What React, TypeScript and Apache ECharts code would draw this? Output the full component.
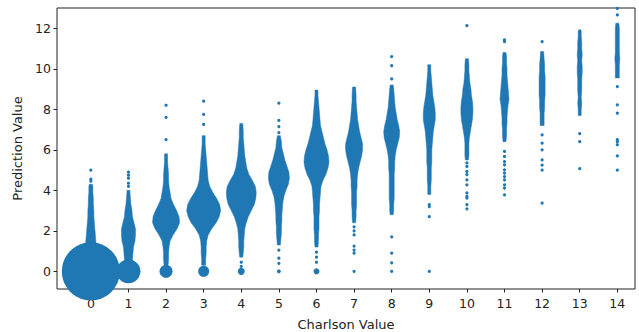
import React, { useEffect, useRef } from "react";
import * as echarts from "echarts";

// Charlson categories and tick labels
const charlsonValues = [0, 1, 2, 3, 4, 5, 6, 7, 8, 9, 10, 11, 12, 13, 14];
const predictionTicks = [0, 2, 4, 6, 8, 10, 12];

// Large clusters of identical predictions: [charlson, prediction, count-scaled diameter]
const zeroClusters: number[][] = [
  [0, 0, 58], [1, 0, 24], [2, 0, 13], [3, 0, 11], [4, 0, 7], [5, 0, 4], [6, 0, 6],
];

// Dense bodies per Charlson value: [prediction, count-scaled spread]
const body0 = [[0.9, 11], [1.2, 11], [1.5, 10], [1.8, 9], [2.1, 8], [2.4, 7], [2.7, 6], [3.0, 6], [3.3, 5], [3.6, 5], [3.9, 4], [4.2, 4], [4.3, 3]];
const body1 = [[0.3, 8], [0.6, 8], [0.9, 9], [1.2, 10], [1.5, 13], [1.8, 14], [2.1, 14], [2.4, 11], [2.7, 8], [3.0, 7], [3.3, 5], [3.6, 4], [3.9, 3], [4.0, 3]];
const body2 = [[0.3, 4], [0.6, 5], [0.9, 5], [1.2, 6], [1.5, 8], [1.8, 14], [2.1, 22], [2.4, 27], [2.7, 26], [3.0, 21], [3.3, 15], [3.6, 10], [3.9, 8], [4.2, 6], [4.5, 5], [4.8, 5], [5.1, 4], [5.4, 3], [5.8, 3]];
const body3 = [[0.3, 4], [0.6, 4], [0.9, 5], [1.2, 5], [1.5, 6], [1.8, 9], [2.1, 16], [2.4, 25], [2.7, 31], [3.0, 34], [3.3, 32], [3.6, 26], [3.9, 18], [4.2, 12], [4.5, 9], [4.8, 8], [5.1, 7], [5.4, 6], [5.7, 5], [6.0, 4], [6.3, 3], [6.7, 3]];
const body4 = [[0.7, 3], [0.9, 4], [1.2, 5], [1.5, 5], [1.8, 6], [2.1, 7], [2.4, 10], [2.7, 14], [3.0, 20], [3.3, 26], [3.6, 29], [3.9, 30], [4.2, 28], [4.5, 22], [4.8, 15], [5.1, 11], [5.4, 9], [5.7, 7], [6.0, 6], [6.3, 5], [6.6, 4], [6.9, 4], [7.3, 3]];
const body5 = [[1.3, 3], [1.6, 4], [1.9, 5], [2.2, 5], [2.5, 6], [2.8, 6], [3.1, 7], [3.4, 8], [3.7, 10], [4.0, 14], [4.3, 19], [4.6, 21], [4.9, 20], [5.2, 16], [5.5, 12], [5.8, 9], [6.1, 6], [6.4, 5], [6.7, 3]];
const body6 = [[1.2, 3], [1.5, 4], [1.8, 4], [2.1, 5], [2.4, 5], [2.7, 5], [3.0, 6], [3.3, 6], [3.6, 7], [3.9, 8], [4.2, 9], [4.5, 13], [4.8, 19], [5.1, 23], [5.4, 25], [5.7, 24], [6.0, 21], [6.3, 17], [6.6, 14], [6.9, 11], [7.2, 8], [7.5, 7], [7.8, 6], [8.1, 5], [8.4, 4], [8.7, 3], [8.95, 3]];
const body7 = [[2.4, 3], [2.7, 4], [3.0, 4], [3.3, 5], [3.6, 5], [3.9, 5], [4.2, 6], [4.5, 6], [4.8, 7], [5.1, 9], [5.4, 12], [5.7, 15], [6.0, 17], [6.3, 17], [6.6, 14], [6.9, 11], [7.2, 9], [7.5, 7], [7.8, 6], [8.1, 5], [8.4, 4], [8.7, 4], [9.1, 3]];
const body8 = [[2.8, 3], [3.0, 4], [3.3, 4], [3.6, 5], [3.9, 5], [4.2, 5], [4.5, 5], [4.8, 5], [5.1, 6], [5.4, 6], [5.7, 7], [6.0, 9], [6.3, 12], [6.6, 15], [6.9, 16], [7.2, 14], [7.5, 11], [7.8, 9], [8.1, 7], [8.4, 6], [8.7, 5], [9.0, 4], [9.2, 3]];
const body9 = [[3.8, 3], [4.2, 3], [4.5, 4], [4.8, 4], [5.1, 4], [5.4, 5], [5.7, 5], [6.0, 5], [6.3, 6], [6.6, 7], [6.9, 8], [7.2, 10], [7.5, 12], [7.8, 12], [8.1, 11], [8.4, 9], [8.7, 7], [9.0, 6], [9.3, 5], [9.6, 4], [9.9, 3], [10.2, 3]];
const body10 = [[5.5, 3], [5.7, 4], [6.0, 4], [6.3, 4], [6.6, 5], [6.9, 7], [7.2, 9], [7.5, 11], [7.8, 12], [8.1, 12], [8.4, 11], [8.7, 9], [9.0, 8], [9.3, 6], [9.6, 5], [9.9, 4], [10.2, 4], [10.5, 3]];
const body11 = [[6.4, 3], [6.7, 4], [7.0, 4], [7.3, 5], [7.6, 5], [7.9, 6], [8.2, 7], [8.5, 9], [8.8, 8], [9.1, 7], [9.4, 6], [9.7, 5], [10.0, 5], [10.3, 4], [10.6, 4], [10.8, 3]];
const body12 = [[7.2, 4], [7.5, 4], [7.8, 4], [8.1, 5], [8.4, 5], [8.7, 6], [9.0, 6], [9.3, 6], [9.6, 6], [9.9, 5], [10.2, 5], [10.5, 4], [10.85, 3]];
const body13 = [[7.7, 3], [8.0, 3], [8.3, 4], [8.6, 3], [8.9, 4], [9.2, 4], [9.5, 4], [9.8, 5], [10.1, 5], [10.4, 4], [10.7, 5], [11.0, 4], [11.3, 4], [11.6, 3], [11.85, 3]];
const body14 = [[9.55, 4], [9.9, 4], [10.2, 4], [10.5, 5], [10.8, 4], [11.1, 4], [11.4, 4], [11.7, 4], [12.0, 4], [12.25, 3]];
const bodies = [body0, body1, body2, body3, body4, body5, body6, body7, body8, body9, body10, body11, body12, body13, body14];

// Isolated single predictions per Charlson value
const stray0 = [4.45, 4.55, 5.0];
const stray1 = [4.2, 4.35, 4.6, 4.75, 4.9];
const stray2 = [6.5, 7.6, 8.2];
const stray3 = [7.25, 7.75, 8.4];
const stray4 = [0.25, 0.45];
const stray5 = [0.4, 0.65, 1.05, 6.85, 7.15, 7.45, 8.3];
const stray6 = [0.45, 0.7, 0.95];
const stray7 = [0, 0.9, 1.05, 1.25, 1.8, 2.0, 2.2];
const stray8 = [0, 0.42, 0.9, 1.7, 9.5, 10.15, 10.6];
const stray9 = [0, 2.7, 3.2, 3.3];
const stray10 = [3.09, 3.29, 3.62, 3.7, 3.87, 4.27, 4.52, 4.77, 4.93, 5.18, 5.35, 12.13];
const stray11 = [3.78, 4.11, 4.27, 4.52, 4.68, 4.85, 5.01, 5.26, 5.42, 5.67, 5.92, 11.34, 11.43];
const stray12 = [3.37, 5.0, 5.25, 5.5, 6.0, 6.33, 6.74, 11.34];
const stray13 = [5.07, 6.4, 6.8, 11.87];
const stray14 = [5.0, 5.7, 6.25, 6.4, 6.5, 7.81, 8.22, 9.12, 12.66, 12.98];
const strays = [stray0, stray1, stray2, stray3, stray4, stray5, stray6, stray7, stray8, stray9, stray10, stray11, stray12, stray13, stray14];

const BLUE = "#1f77b4";
const INK = "#222";
const FONT = "DejaVu Sans";

export default function App() {
  const ref = useRef<HTMLDivElement>(null);
  useEffect(() => {
    if (!ref.current) return;
    const chart = echarts.init(ref.current, undefined, { renderer: "svg" });

    const strayData: number[][] = [];
    strays.forEach((list, i) => list.forEach((y) => strayData.push([charlsonValues[i], y, 3.2])));

    const option: any = {
      animation: false,
      grid: {
        left: 57, right: 4, top: 8, bottom: 43,
        outerBoundsMode: "none", containLabel: false,
        show: true, borderColor: INK, borderWidth: 1, backgroundColor: "transparent",
      },
      xAxis: {
        type: "value", min: -0.9, max: 14.47, position: "bottom",
        name: "Charlson Value", nameLocation: "middle", nameGap: 29,
        nameTextStyle: { fontFamily: FONT, fontSize: 13, color: INK },
        axisLine: { show: false, onZero: false },
        axisTick: { show: true, length: 3.5, customValues: charlsonValues, lineStyle: { color: INK } },
        axisLabel: { customValues: charlsonValues, fontFamily: FONT, fontSize: 12.5, color: INK, margin: 8 },
        splitLine: { show: false },
      },
      yAxis: {
        type: "value", min: -0.87, max: 13.0, position: "left",
        name: "Prediction Value", nameLocation: "middle", nameGap: 32,
        nameTextStyle: { fontFamily: FONT, fontSize: 13, color: INK },
        axisLine: { show: false, onZero: false },
        axisTick: { show: true, length: 3.5, customValues: predictionTicks, lineStyle: { color: INK } },
        axisLabel: { customValues: predictionTicks, fontFamily: FONT, fontSize: 12.5, color: INK, margin: 6 },
        splitLine: { show: false },
      },
      series: [
        {
          type: "custom",
          clip: true,
          data: charlsonValues.map((c) => [c]),
          renderItem: (params: any, api: any) => {
            const x = api.value(0);
            const prof = bodies[x];
            const left: number[][] = [];
            const right: number[][] = [];
            prof.forEach(([y, w]) => {
              const p = api.coord([x, y]);
              left.push([p[0] - w / 2, p[1]]);
              right.push([p[0] + w / 2, p[1]]);
            });
            const pts = left.concat(right.reverse());
            return {
              type: "polygon",
              shape: { points: pts, smooth: 0 },
              style: { fill: BLUE, stroke: BLUE, lineWidth: 0.5 },
            };
          },
        },
        {
          type: "scatter",
          clip: true,
          data: zeroClusters,
          symbolSize: (v: number[]) => v[2],
          itemStyle: { color: BLUE, opacity: 1 },
        },
        {
          type: "scatter",
          clip: true,
          data: strayData,
          symbolSize: (v: number[]) => v[2],
          itemStyle: { color: BLUE, opacity: 1 },
        },
      ],
    };
    chart.setOption(option);
    return () => chart.dispose();
  }, []);
  return (
    <div
      ref={ref}
      style={{ position: "fixed", left: 0, top: 0, width: 639, height: 332, background: "#fff" }}
    />
  );
}
